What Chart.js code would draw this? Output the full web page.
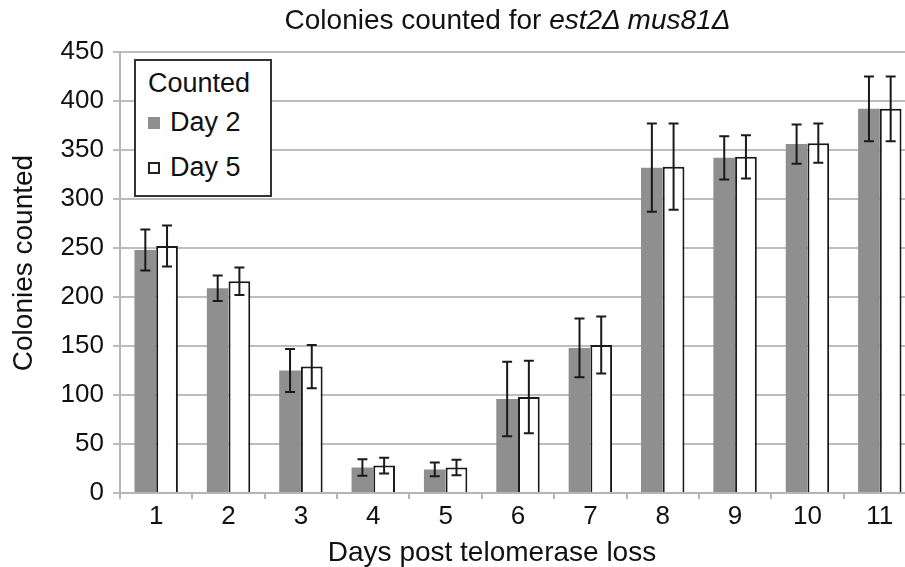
<!DOCTYPE html>
<html>
<head>
<meta charset="utf-8">
<script src="https://cdn.jsdelivr.net/npm/chart.js@4/dist/chart.umd.min.js"></script>
<style>
  html, body { margin: 0; padding: 0; background: #fff; overflow: hidden; }
  #wrap { position: relative; width: 905px; height: 567px; overflow: hidden; font-family: 'Liberation Sans', Arial, sans-serif; color: #111; }
  canvas { position: absolute; left: 0; top: 0; }
  #title { position: absolute; left: 0; width: 1015px; top: 4px; text-align: center; font-size: 28px; line-height: 32px; white-space: nowrap; }
  #xtitle { position: absolute; left: 92px; width: 800px; top: 535px; text-align: center; font-size: 28px; line-height: 34px; white-space: nowrap; }
  #ytitle { position: absolute; left: 23px; top: 263px; width: 300px; margin-left: -150px; margin-top: -17px; text-align: center; font-size: 28px; line-height: 34px; white-space: nowrap; transform: rotate(-90deg); }
  #legend { position: absolute; left: 134px; top: 59px; width: 134px; height: 134px; border: 2px solid #333; background: #fff; }
  #legend .ttl { position: absolute; left: 12px; top: 6px; font-size: 27px; line-height: 32px; }
  #legend .item { position: absolute; left: 12px; font-size: 27px; line-height: 32px; }
  #legend .sw { display: inline-block; width: 12px; height: 12px; margin-right: 10px; vertical-align: 2px; box-sizing: border-box; }
</style>
</head>
<body>
<div id="wrap">
  <canvas id="c" width="916" height="567"></canvas>
  <div id="title">Colonies counted for <i>est2Δ mus81Δ</i></div>
  <div id="xtitle"></div>
  <div id="ytitle"></div>
  <div id="legend">
    <div class="ttl">Counted</div>
    <div class="item" style="top:45px"><span class="sw" style="background:#8f8f8f"></span><span class="n0"></span></div>
    <div class="item" style="top:90px"><span class="sw" style="background:#fff;border:2px solid #222"></span><span class="n1"></span></div>
  </div>
</div>
<script>
const categories = ['1','2','3','4','5','6','7','8','9','10','11'];
const day2 = [248, 209, 125, 26, 24, 96, 148, 332, 342, 356, 392];
const day2Err = [21, 13, 22, 8.5, 7, 38, 30, 45, 22, 20, 33];
const day5 = [252, 216, 129, 28, 26, 98, 151, 333, 343, 357, 392];
const day5Err = [21, 14, 22, 8, 8, 37, 29, 44, 22, 20, 33];
const seriesNames = ['Day 2', 'Day 5'];
const xTitle = 'Days post telomerase loss';
const yTitle = 'Colonies counted';

document.getElementById('xtitle').textContent = xTitle;
document.getElementById('ytitle').textContent = yTitle;
document.querySelector('#legend .n0').textContent = seriesNames[0];
document.querySelector('#legend .n1').textContent = seriesNames[1];

const FONT = "'Liberation Sans', Arial, sans-serif";

const errorBars = {
  id: 'errorBars',
  afterDatasetsDraw(chart) {
    const ctx = chart.ctx;
    const y = chart.scales.y;
    chart.data.datasets.forEach((ds, i) => {
      const meta = chart.getDatasetMeta(i);
      meta.data.forEach((el, j) => {
        const v = ds.data[j], e = ds.errors[j];
        const top = y.getPixelForValue(v + e);
        const bot = y.getPixelForValue(v - e);
        const x = el.x;
        ctx.save();
        ctx.strokeStyle = '#1a1a1a';
        ctx.lineWidth = 2;
        ctx.beginPath();
        ctx.moveTo(x, top); ctx.lineTo(x, bot);
        ctx.moveTo(x - 5, top); ctx.lineTo(x + 5, top);
        ctx.moveTo(x - 5, bot); ctx.lineTo(x + 5, bot);
        ctx.stroke();
        ctx.restore();
      });
    });
  }
};

new Chart(document.getElementById('c'), {
  type: 'bar',
  data: {
    labels: categories,
    datasets: [
      { label: seriesNames[0], data: day2, errors: day2Err, backgroundColor: '#8f8f8f', borderWidth: 0 },
      { label: seriesNames[1], data: day5, errors: day5Err, backgroundColor: '#ffffff', borderColor: '#1a1a1a', borderWidth: 2 }
    ]
  },
  options: {
    responsive: false,
    animation: false,
    devicePixelRatio: 1,
    datasets: { bar: { categoryPercentage: 0.6, barPercentage: 1.0 } },
    layout: { padding: { top: 52, left: 0, right: 0, bottom: 0 } },
    plugins: { legend: { display: false }, title: { display: false }, tooltip: { enabled: false } },
    scales: {
      x: {
        offset: true,
        grid: { display: true, drawOnChartArea: false, drawTicks: true, tickLength: 6, color: '#b5b5b5', lineWidth: 2, offset: true },
        border: { display: true, color: '#b5b5b5', width: 2 },
        ticks: { color: '#111', font: { family: FONT, size: 26 }, padding: 2, maxRotation: 0 },
        afterFit(s) { s.height = 74; }
      },
      y: {
        min: 0, max: 450,
        grid: { color: '#bdbdbd', lineWidth: 2, tickLength: 7, drawTicks: true },
        border: { display: true, color: '#b5b5b5', width: 2 },
        ticks: { stepSize: 50, color: '#111', font: { family: FONT, size: 26 }, padding: 9 },
        afterFit(s) { s.width = 120; }
      }
    }
  },
  plugins: [errorBars]
});
</script>
</body>
</html>
